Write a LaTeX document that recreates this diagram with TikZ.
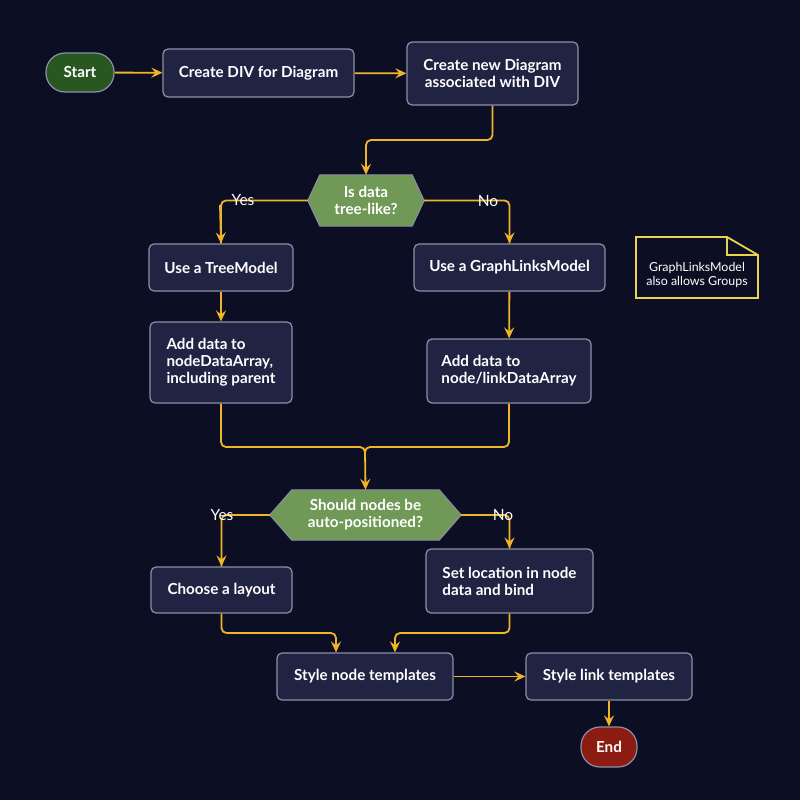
\documentclass[tikz,border=0pt]{standalone}
\usepackage{fontspec}
\setmainfont{Lato}
\usetikzlibrary{arrows.meta}
\definecolor{bg}{RGB}{12,14,35}
\definecolor{boxfill}{RGB}{33,35,66}
\definecolor{boxline}{RGB}{140,143,165}
\definecolor{arrowc}{RGB}{240,180,40}
\definecolor{startc}{RGB}{40,88,32}
\definecolor{endc}{RGB}{140,28,18}
\definecolor{decc}{RGB}{112,152,86}
\definecolor{notec}{RGB}{232,212,80}
\tikzset{
  proc/.style={draw=boxline, fill=boxfill, rounded corners=5pt, line width=1.2pt, text=white, font=\fontsize{15.2}{17}\selectfont\bfseries, inner sep=0pt},
  term/.style={draw=boxline, rounded corners=19pt, line width=1.2pt, text=white, font=\fontsize{15.2}{17}\selectfont\bfseries, inner sep=0pt},
  dec/.style={rectangle, inner sep=0pt, text=white, font=\fontsize{15.2}{17}\selectfont\bfseries, align=center},
  flow/.style={draw=arrowc, line width=1.8pt, rounded corners=5pt, -{Stealth[length=11pt, width=10pt, inset=4pt]}},
  flowplain/.style={draw=arrowc, line width=1.8pt, rounded corners=5pt},
  lab/.style={text=white, font=\fontsize{15.5}{17}\selectfont, inner sep=0pt},
}
\begin{document}
\begin{tikzpicture}[x=1pt,y=-1pt]
\fill[bg] (0,0) rectangle (800,800);
\useasboundingbox (0,0) rectangle (800,800);

% terminals
\node[term, fill=startc, minimum width=68pt, minimum height=39pt] (start) at (80,72.5) {Start};
\node[term, fill=endc, minimum width=56pt, minimum height=40pt, rounded corners=19pt] (end) at (609,747) {End};

% process boxes
\node[proc, minimum width=191pt, minimum height=48pt] (div) at (258.5,73) {Create DIV for Diagram};
\node[proc, minimum width=171pt, minimum height=63pt, align=center] (newd) at (492.5,73.5) {Create new Diagram\\associated with DIV};
\node[proc, minimum width=144pt, minimum height=47pt] (tree) at (221,267.5) {Use a TreeModel};
\node[proc, minimum width=191pt, minimum height=47pt] (glm) at (509.5,267.5) {Use a GraphLinksModel};
\node[proc, minimum width=142pt, minimum height=81pt, align=left] (addt) at (221,362.5) {Add data to\\nodeDataArray,\\including parent};
\node[proc, minimum width=164pt, minimum height=64pt, align=left] (addg) at (509,371) {Add data to\\node/linkDataArray};
\node[proc, minimum width=141pt, minimum height=46pt] (lay) at (221.5,590) {Choose a layout};
\node[proc, minimum width=167pt, minimum height=64pt, align=left] (loc) at (509.5,581) {Set location in node\\data and bind};
\node[proc, minimum width=176pt, minimum height=47pt] (sn) at (365,676.5) {Style node templates};
\node[proc, minimum width=166pt, minimum height=47pt] (sl) at (609,676.5) {Style link templates};

% decisions (hexagons)
\node[dec, minimum width=116pt, minimum height=51pt] (d1) at (366,200.5) {};
\fill[decc, draw=boxline, line width=1pt] (d1.west) -- ([xshift=12pt]d1.north west) -- ([xshift=-12pt]d1.north east) -- (d1.east) -- ([xshift=-12pt]d1.south east) -- ([xshift=12pt]d1.south west) -- cycle;
\node[dec] at (d1) {Is data\\tree-like?};

\node[dec, minimum width=191pt, minimum height=50pt] (d2) at (365.5,515) {};
\fill[decc, draw=boxline, line width=1pt] (d2.west) -- ([xshift=22pt]d2.north west) -- ([xshift=-22pt]d2.north east) -- (d2.east) -- ([xshift=-22pt]d2.south east) -- ([xshift=22pt]d2.south west) -- cycle;
\node[dec] at (d2) {Should nodes be\\auto-positioned?};

% note
\coordinate (n1) at (636,237);
\coordinate (n2) at (727,237);
\coordinate (n3) at (758,255);
\coordinate (n4) at (758,298);
\coordinate (n5) at (636,298);
\coordinate (n6) at (727,255);
\draw[notec, fill=bg, line width=1.8pt] (n1) -- (n2) -- (n3) -- (n4) -- (n5) -- cycle;
\draw[notec, line width=1.8pt] (n2) -- (n6) -- (n3);
\node[text=white, font=\fontsize{12.4}{14}\selectfont, align=center, inner sep=0pt] (note) at (697,275) {GraphLinksModel\\also allows Groups};

% connectors
\draw[flow] (start) -- (div);
\draw[flow] (div) -- (newd);
\draw[flow] (newd.south) |- (430,140) -| (d1.north);
\draw[flowplain] (d1.west) -| (tree.north);
\draw[flow] (220,205) -- (tree.north);
\draw[flowplain] (d1.east) -| (glm.north);
\draw[flow] (glm.north |- 0,205) -- (glm.north);
\draw[flow] (tree) -- (addt);
\draw[flow] (glm) -- (addg);
\draw[flowplain] (addt.south) |- (300,447) -| (365,455);
\draw[flowplain] (addg.south) |- (430,447) -| (365,455);
\draw[flow] (365,450) -- (d2.north);
\draw[flowplain] (d2.west) -| (lay.north);
\draw[flow] (221.5,520) -- (lay.north);
\draw[flowplain] (d2.east) -| (loc.north);
\draw[flow] (loc.north |- 0,520) -- (loc.north);
\draw[flow] (lay.south) |- (300,633) -| ([xshift=-29pt]sn.north);
\draw[flow] (loc.south) |- (430,633) -| ([xshift=30pt]sn.north);
\draw[flow] (sn) -- (sl);
\draw[flow] (sl) -- (end);

% labels
\node[lab] (yes1) at (243,200) {Yes};
\node[lab] (no1) at (488,200.5) {No};
\node[lab] (yes2) at (222,515.5) {Yes};
\node[lab] (no2) at (503,515) {No};
\end{tikzpicture}
\end{document}
